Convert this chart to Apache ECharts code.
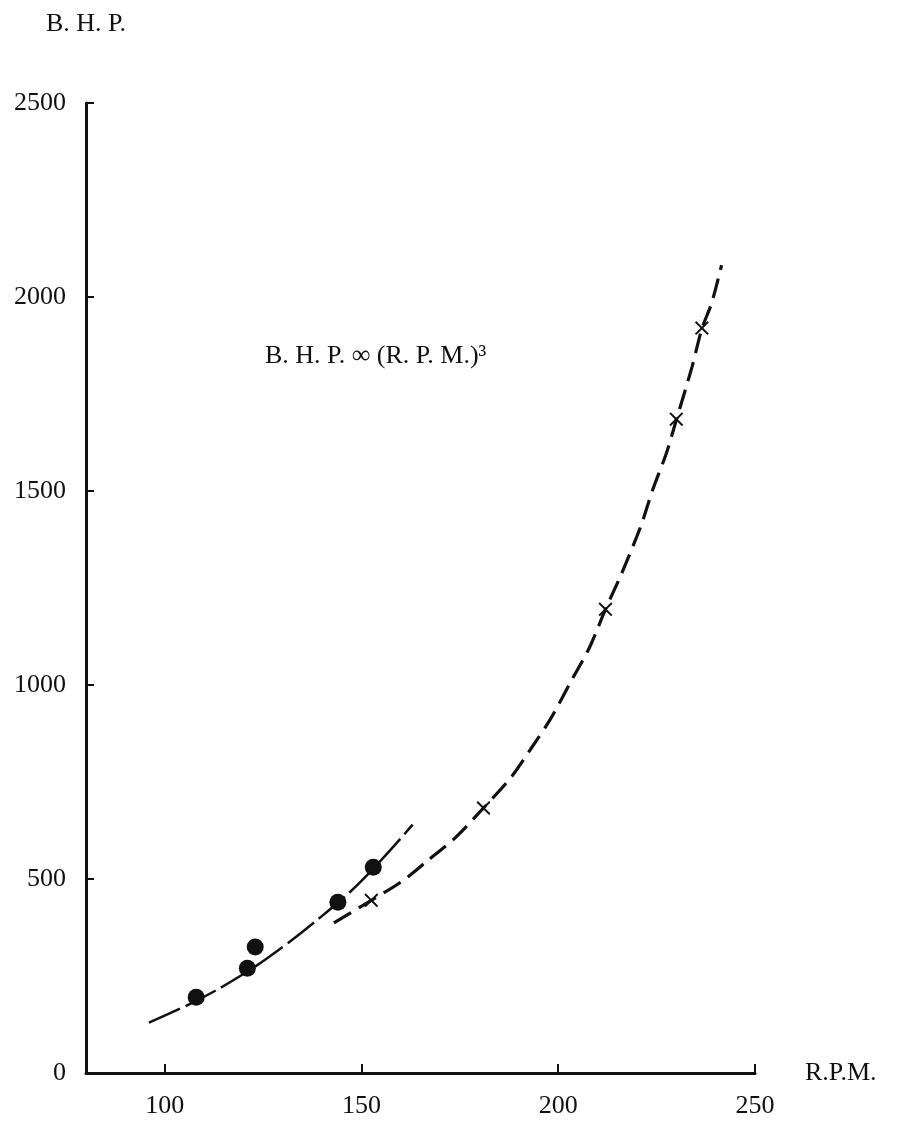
<!DOCTYPE html>
<html>
<head>
<meta charset="utf-8">
<title>B.H.P. vs R.P.M.</title>
<script src="https://cdn.jsdelivr.net/npm/echarts@6/dist/echarts.min.js"></script>
<style>
html, body { margin:0; padding:0; background:#fff; }
#container { width:902px; height:1121px; }
</style>
</head>
<body>
<div id="container"></div>
<script>
    // measured points (filled dots)
    var dotRpm = [108, 121, 123, 144, 153];
    var dotBhp = [195, 270, 325, 440, 530];
    // measured points (crosses)
    var crossRpm = [152.5, 181, 212, 230, 236.5];
    var crossBhp = [445, 683, 1195, 1685, 1920];
    // fitted curve through the dots
    var curve1Rpm = [96, 108, 120, 130, 140, 150, 163];
    var curve1Bhp = [130, 186, 255, 325, 405, 495, 640];
    // dashed curve through the crosses
    var curve2Rpm = [143, 152.5, 160, 167, 174, 181, 188, 193, 198, 203, 208, 212, 216, 221, 224, 227.5, 230, 234, 236.5, 239, 241.5];
    var curve2Bhp = [387, 445, 492, 549, 608, 683, 762, 835, 912, 1005, 1098, 1195, 1285, 1410, 1503, 1598, 1683, 1820, 1918, 1985, 2082];
    var xTicks = [100, 150, 200, 250];

    function pairs(xs, ys) {
        var out = [];
        for (var i = 0; i < xs.length; i++) out.push([xs[i], ys[i]]);
        return out;
    }

    var ink = '#111';
    var font = '"Liberation Serif", "DejaVu Serif", serif';
    var crossPath = 'path://M0,1 L1,0 L5,4 L9,0 L10,1 L6,5 L10,9 L9,10 L5,6 L1,10 L0,9 L4,5 Z';

    var option = {
        backgroundColor: '#fff',
        animation: false,
        grid: { left: 86, right: 147, top: 103, bottom: 48 },
        xAxis: {
            type: 'value',
            min: 80,
            max: 250,
            name: 'R.P.M.',
            nameLocation: 'end',
            nameGap: 50,
            nameTextStyle: { color: ink, fontFamily: font, fontSize: 26 },
            axisLine: { lineStyle: { color: ink, width: 3 } },
            axisTick: { inside: false, length: -9, customValues: xTicks, lineStyle: { color: ink, width: 2 } },
            axisLabel: { customValues: xTicks, color: ink, fontFamily: font, fontSize: 26, margin: 20 },
            splitLine: { show: false }
        },
        yAxis: {
            type: 'value',
            min: 0,
            max: 2500,
            interval: 500,
            name: 'B. H. P.',
            nameLocation: 'end',
            nameGap: 66,
            nameTextStyle: { color: ink, fontFamily: font, fontSize: 26, align: 'center' },
            axisLine: { show: true, lineStyle: { color: ink, width: 3 } },
            axisTick: { show: true, inside: true, length: 8, lineStyle: { color: ink, width: 2 } },
            axisLabel: {
                color: ink, fontFamily: font, fontSize: 26, margin: 20,
                formatter: function (v) { return String(v); }
            },
            splitLine: { show: false }
        },
        graphic: [{
            type: 'text',
            left: 265,
            top: 343,
            style: { text: 'B. H. P. ∞ (R. P. M.)³', fill: ink, font: '26px ' + font }
        }],
        series: [
            {
                type: 'line',
                data: pairs(curve1Rpm, curve1Bhp),
                smooth: 0.4,
                showSymbol: false,
                lineStyle: { color: ink, width: 2.5, type: [34, 6] },
                z: 2
            },
            {
                type: 'line',
                data: pairs(curve2Rpm, curve2Bhp),
                smooth: 0.3,
                showSymbol: false,
                lineStyle: { color: ink, width: 3.2, type: [20, 9] },
                z: 2
            },
            {
                type: 'scatter',
                data: pairs(dotRpm, dotBhp),
                symbol: 'circle',
                symbolSize: 17,
                itemStyle: { color: ink, opacity: 1 },
                z: 3
            },
            {
                type: 'scatter',
                data: pairs(crossRpm, crossBhp),
                symbol: crossPath,
                symbolSize: 14,
                itemStyle: { color: ink, opacity: 1 },
                z: 3
            }
        ]
    };
    var myChart = echarts.init(document.getElementById('container'));
    myChart.setOption(option, true);
</script>
</body>
</html>
